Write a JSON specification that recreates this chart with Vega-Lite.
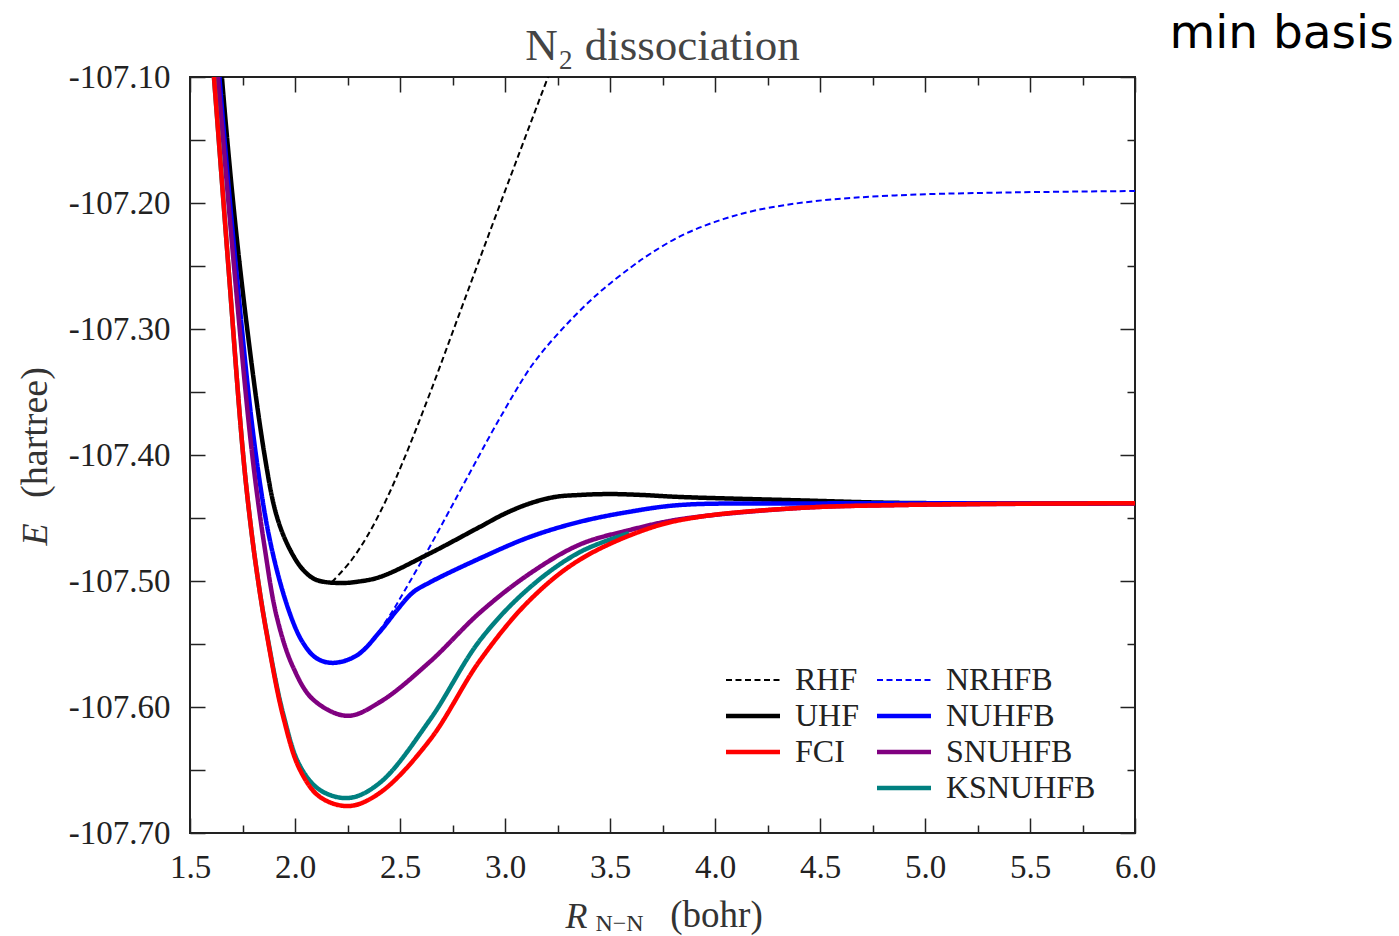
{
  "$schema": "https://vega.github.io/schema/vega-lite/v6.json",
  "width": 945,
  "height": 756,
  "autosize": {"type": "none"},
  "padding": {"left": 190, "top": 77, "right": 264, "bottom": 103},
  "background": "white",
  "config": {
    "view": {"stroke": "#222", "strokeWidth": 2},
    "axis": {"grid": false, "domain": false, "tickColor": "#222", "tickWidth": 1.5, "labelFont": "Liberation Serif", "labelFontSize": 33, "labelColor": "#222", "labelFlush": false, "titleFont": "Liberation Serif", "titleFontWeight": "normal", "titleColor": "#333"},
    "legend": {"labelFont": "Liberation Serif", "labelFontSize": 32, "labelColor": "#222"}
  },
  "data": {"values": [
    {"s":"RHF","x":2.176,"y":-107.5008},{"s":"RHF","x":2.262,"y":-107.4849},{"s":"RHF","x":2.343,"y":-107.4647},{"s":"RHF","x":2.433,"y":-107.436},{"s":"RHF","x":2.524,"y":-107.4013},{"s":"RHF","x":2.643,"y":-107.3508},{"s":"RHF","x":2.786,"y":-107.2865},{"s":"RHF","x":2.929,"y":-107.2222},{"s":"RHF","x":3.071,"y":-107.1591},{"s":"RHF","x":3.205,"y":-107.10},{"s":"RHF","x":3.357,"y":-107.035},
    {"s":"NRHFB","x":2.40,"y":-107.540},{"s":"NRHFB","x":2.462,"y":-107.5246},{"s":"NRHFB","x":2.524,"y":-107.5071},{"s":"NRHFB","x":2.629,"y":-107.4766},{"s":"NRHFB","x":2.724,"y":-107.4476},{"s":"NRHFB","x":2.819,"y":-107.4183},{"s":"NRHFB","x":2.976,"y":-107.3706},{"s":"NRHFB","x":3.133,"y":-107.3278},{"s":"NRHFB","x":3.295,"y":-107.296},{"s":"NRHFB","x":3.452,"y":-107.2706},{"s":"NRHFB","x":3.595,"y":-107.2516},{"s":"NRHFB","x":3.69,"y":-107.2405},{"s":"NRHFB","x":3.833,"y":-107.2265},{"s":"NRHFB","x":4.0,"y":-107.215},{"s":"NRHFB","x":4.19,"y":-107.206},{"s":"NRHFB","x":4.476,"y":-107.1985},{"s":"NRHFB","x":4.857,"y":-107.194},{"s":"NRHFB","x":5.333,"y":-107.1918},{"s":"NRHFB","x":6.0,"y":-107.1905},
    {"s":"UHF","x":1.625,"y":-107.03},{"s":"UHF","x":1.652,"y":-107.10},{"s":"UHF","x":1.738,"y":-107.251},{"s":"UHF","x":1.855,"y":-107.40},{"s":"UHF","x":1.914,"y":-107.449},{"s":"UHF","x":1.976,"y":-107.475},{"s":"UHF","x":2.038,"y":-107.491},{"s":"UHF","x":2.10,"y":-107.499},{"s":"UHF","x":2.21,"y":-107.5016},{"s":"UHF","x":2.30,"y":-107.5005},{"s":"UHF","x":2.405,"y":-107.4968},{"s":"UHF","x":2.643,"y":-107.478},{"s":"UHF","x":2.881,"y":-107.457},{"s":"UHF","x":3.0,"y":-107.4465},{"s":"UHF","x":3.119,"y":-107.4384},{"s":"UHF","x":3.238,"y":-107.4333},{"s":"UHF","x":3.357,"y":-107.4317},{"s":"UHF","x":3.5,"y":-107.431},{"s":"UHF","x":3.65,"y":-107.4317},{"s":"UHF","x":3.833,"y":-107.4333},{"s":"UHF","x":4.405,"y":-107.436},{"s":"UHF","x":4.881,"y":-107.438},{"s":"UHF","x":6.0,"y":-107.4383},
    {"s":"NUHFB","x":1.61,"y":-107.03},{"s":"NUHFB","x":1.64,"y":-107.10},{"s":"NUHFB","x":1.719,"y":-107.251},{"s":"NUHFB","x":1.814,"y":-107.40},{"s":"NUHFB","x":1.890,"y":-107.475},{"s":"NUHFB","x":1.976,"y":-107.526},{"s":"NUHFB","x":2.038,"y":-107.549},{"s":"NUHFB","x":2.10,"y":-107.561},{"s":"NUHFB","x":2.18,"y":-107.565},{"s":"NUHFB","x":2.295,"y":-107.559},{"s":"NUHFB","x":2.405,"y":-107.540},{"s":"NUHFB","x":2.486,"y":-107.523},{"s":"NUHFB","x":2.562,"y":-107.509},{"s":"NUHFB","x":2.643,"y":-107.501},{"s":"NUHFB","x":2.881,"y":-107.482},{"s":"NUHFB","x":3.119,"y":-107.465},{"s":"NUHFB","x":3.357,"y":-107.453},{"s":"NUHFB","x":3.595,"y":-107.445},{"s":"NUHFB","x":3.833,"y":-107.4397},{"s":"NUHFB","x":4.405,"y":-107.4385},{"s":"NUHFB","x":6.0,"y":-107.4383},
    {"s":"SNUHFB","x":1.60,"y":-107.03},{"s":"SNUHFB","x":1.633,"y":-107.10},{"s":"SNUHFB","x":1.71,"y":-107.251},{"s":"SNUHFB","x":1.795,"y":-107.398},{"s":"SNUHFB","x":1.857,"y":-107.475},{"s":"SNUHFB","x":1.914,"y":-107.529},{"s":"SNUHFB","x":1.99,"y":-107.568},{"s":"SNUHFB","x":2.086,"y":-107.594},{"s":"SNUHFB","x":2.248,"y":-107.607},{"s":"SNUHFB","x":2.405,"y":-107.596},{"s":"SNUHFB","x":2.643,"y":-107.564},{"s":"SNUHFB","x":2.881,"y":-107.525},{"s":"SNUHFB","x":3.119,"y":-107.494},{"s":"SNUHFB","x":3.357,"y":-107.471},{"s":"SNUHFB","x":3.595,"y":-107.4595},{"s":"SNUHFB","x":3.833,"y":-107.451},{"s":"SNUHFB","x":4.405,"y":-107.442},{"s":"SNUHFB","x":4.881,"y":-107.4397},{"s":"SNUHFB","x":6.0,"y":-107.4383},
    {"s":"KSNUHFB","x":1.58,"y":-107.03},{"s":"KSNUHFB","x":1.614,"y":-107.10},{"s":"KSNUHFB","x":1.683,"y":-107.2508},{"s":"KSNUHFB","x":1.751,"y":-107.396},{"s":"KSNUHFB","x":1.786,"y":-107.4516},{"s":"KSNUHFB","x":1.819,"y":-107.4935},{"s":"KSNUHFB","x":1.862,"y":-107.538},{"s":"KSNUHFB","x":1.944,"y":-107.6056},{"s":"KSNUHFB","x":2.024,"y":-107.6468},{"s":"KSNUHFB","x":2.119,"y":-107.6659},{"s":"KSNUHFB","x":2.257,"y":-107.6722},{"s":"KSNUHFB","x":2.405,"y":-107.660},{"s":"KSNUHFB","x":2.643,"y":-107.610},{"s":"KSNUHFB","x":2.881,"y":-107.547},{"s":"KSNUHFB","x":3.119,"y":-107.505},{"s":"KSNUHFB","x":3.357,"y":-107.477},{"s":"KSNUHFB","x":3.59,"y":-107.462},
    {"s":"FCI","x":1.58,"y":-107.03},{"s":"FCI","x":1.614,"y":-107.10},{"s":"FCI","x":1.683,"y":-107.2508},{"s":"FCI","x":1.751,"y":-107.396},{"s":"FCI","x":1.786,"y":-107.4516},{"s":"FCI","x":1.819,"y":-107.4937},{"s":"FCI","x":1.862,"y":-107.5389},{"s":"FCI","x":1.944,"y":-107.6079},{"s":"FCI","x":2.024,"y":-107.650},{"s":"FCI","x":2.119,"y":-107.6714},{"s":"FCI","x":2.257,"y":-107.6786},{"s":"FCI","x":2.405,"y":-107.668},{"s":"FCI","x":2.643,"y":-107.626},{"s":"FCI","x":2.881,"y":-107.563},{"s":"FCI","x":3.119,"y":-107.515},{"s":"FCI","x":3.357,"y":-107.483},{"s":"FCI","x":3.69,"y":-107.458},{"s":"FCI","x":3.929,"y":-107.449},{"s":"FCI","x":4.405,"y":-107.442},{"s":"FCI","x":4.881,"y":-107.4397},{"s":"FCI","x":5.5,"y":-107.4386},{"s":"FCI","x":6.0,"y":-107.4383}
  ]},
  "layer": [
    {
      "mark": {"type": "line", "clip": true, "interpolate": "catmull-rom", "strokeCap": "butt"},
      "encoding": {
        "x": {"field": "x", "type": "quantitative", "scale": {"domain": [1.5, 6.0], "nice": false, "zero": false},
          "axis": {"orient": "bottom", "values": [1.5,2,2.5,3,3.5,4,4.5,5,5.5,6], "format": ".1f", "tickSize": -15, "labelPadding": 33, "title": "R", "titleFontStyle": "italic", "titleFontSize": 36, "titleX": 386, "titleY": 83, "titleBaseline": "middle", "titleAlign": "center"}},
        "y": {"field": "y", "type": "quantitative", "scale": {"domain": [-107.7, -107.1], "nice": false, "zero": false},
          "axis": {"orient": "left", "values": [-107.7,-107.6,-107.5,-107.4,-107.3,-107.2,-107.1], "labelExpr": "'-' + format(abs(datum.value), '.2f')", "tickSize": -15, "labelPadding": 35, "title": "E", "titleFontStyle": "italic", "titleFontSize": 36, "titleAngle": -90, "titleX": -155, "titleY": 457, "titleBaseline": "middle", "titleAlign": "center"}},
        "color": {"field": "s", "type": "nominal",
          "scale": {"domain": ["RHF","UHF","FCI"," ","NRHFB","NUHFB","SNUHFB","KSNUHFB"], "range": ["#000000","#000000","#ff0000","transparent","#0000ff","#0000ff","#800080","#008080"]},
          "legend": {"orient": "none", "legendX": 547, "legendY": 587, "columns": 2, "title": null, "symbolType": "M-1.8,0H1.8", "symbolSize": 900, "labelFont": "Liberation Serif", "labelFontSize": 32, "labelColor": "#222", "labelOffset": 26, "rowPadding": 4, "columnPadding": 8, "padding": 0,
            "encode": {"symbols": {"update": {"strokeWidth": {"signal": "datum.value === 'RHF' || datum.value === 'NRHFB' ? 2 : 4.5"}}}}}},
        "strokeDash": {"field": "s", "type": "nominal",
          "scale": {"domain": ["RHF","UHF","FCI"," ","NRHFB","NUHFB","SNUHFB","KSNUHFB"], "range": [[6,3.5],[1,0],[1,0],[1,0],[6,3.5],[1,0],[1,0],[1,0]]}},
        "strokeWidth": {"condition": {"test": "datum.s === 'RHF' || datum.s === 'NRHFB'", "value": 2}, "value": 4.5}
      }
    },
    {
      "mark": {"type": "point", "opacity": 0},
      "encoding": {
        "x": {"field": "x", "type": "quantitative", "axis": {"orient": "top", "values": [1.5,2,2.5,3,3.5,4,4.5,5,5.5,6], "labels": false, "tickSize": -15, "title": "(bohr)", "titleFontSize": 37, "titleX": 526, "titleY": 838, "titleBaseline": "middle", "titleAlign": "center"}},
        "y": {"field": "y", "type": "quantitative", "axis": {"orient": "right", "values": [-107.7,-107.6,-107.5,-107.4,-107.3,-107.2,-107.1], "labels": false, "tickSize": -15, "title": "(hartree)", "titleFontSize": 38, "titleAngle": -90, "titleX": -1100, "titleY": 355, "titleBaseline": "middle", "titleAlign": "center"}}
      }
    },
    {
      "mark": {"type": "point", "opacity": 0},
      "encoding": {
        "x": {"field": "x", "type": "quantitative", "axis": {"orient": "bottom", "values": [1.75,2.25,2.75,3.25,3.75,4.25,4.75,5.25,5.75], "labels": false, "tickSize": -8, "title": "N−N", "titleFontSize": 24, "titleX": 429, "titleY": 90, "titleBaseline": "middle", "titleAlign": "center"}},
        "y": {"field": "y", "type": "quantitative", "axis": {"orient": "left", "values": [-107.65,-107.55,-107.45,-107.35,-107.25,-107.15], "labels": false, "tickSize": -15, "title": null}}
      }
    },
    {
      "mark": {"type": "point", "opacity": 0},
      "encoding": {
        "x": {"field": "x", "type": "quantitative", "axis": {"orient": "top", "values": [1.75,2.25,2.75,3.25,3.75,4.25,4.75,5.25,5.75], "labels": false, "tickSize": -8, "title": "min basis", "titleFont": "DejaVu Sans", "titleFontSize": 47, "titleColor": "#000", "titleX": 1091, "titleY": -44, "titleBaseline": "middle", "titleAlign": "center"}},
        "y": {"field": "y", "type": "quantitative", "axis": {"orient": "right", "values": [-107.65,-107.55,-107.45,-107.35,-107.25,-107.15], "labels": false, "tickSize": -8, "title": "N₂ dissociation", "titleFontSize": 45, "titleColor": "#444", "titleAngle": 0, "titleX": -473, "titleY": -32, "titleBaseline": "middle", "titleAlign": "center"}}
      }
    }
  ],
  "resolve": {"axis": {"x": "independent", "y": "independent"}}
}
